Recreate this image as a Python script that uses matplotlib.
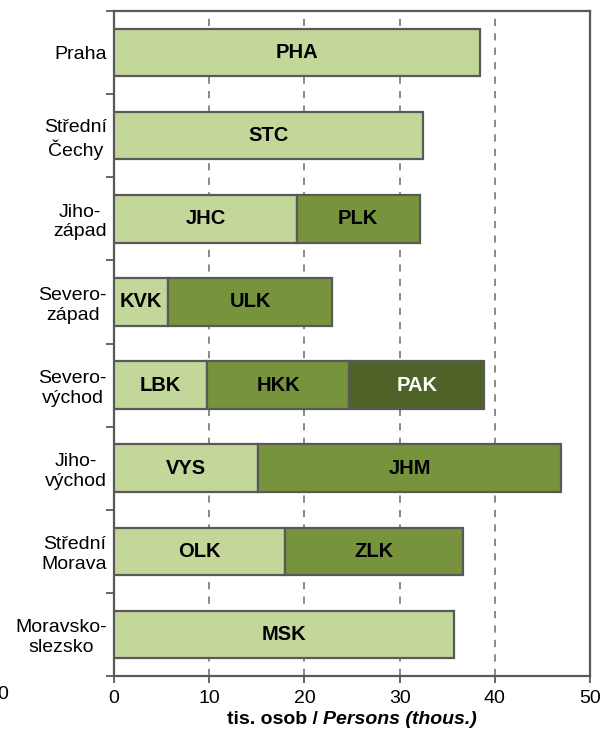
import matplotlib
matplotlib.use('Agg')
import matplotlib.pyplot as plt
import numpy as np

plt.rcParams['font.family'] = ['Liberation Sans', 'DejaVu Sans']

regions = ['Praha', 'Střední\nČechy', 'Jiho-\nzápad', 'Severo-\nzápad',
           'Severo-\nvýchod', 'Jiho-\nvýchod', 'Střední\nMorava', 'Moravsko-\nslezsko']

# kraje v každém regionu soudržnosti (tis. osob), po segmentech zleva
seg1_codes = ['PHA', 'STC', 'JHC', 'KVK', 'LBK', 'VYS', 'OLK', 'MSK']
seg1_vals = [38.4, 32.5, 19.2, 5.7, 9.8, 15.1, 18.0, 35.7]
seg2_codes = ['', '', 'PLK', 'ULK', 'HKK', 'JHM', 'ZLK', '']
seg2_vals = [0, 0, 12.9, 17.2, 14.9, 31.9, 18.7, 0]
seg3_codes = ['', '', '', '', 'PAK', '', '', '']
seg3_vals = [0, 0, 0, 0, 14.2, 0, 0, 0]

C_LIGHT = '#c4d79b'
C_MID = '#77933c'
C_DARK = '#4f6228'
C_EDGE = '#595959'
FS = 14

fig = plt.figure(figsize=(6.04, 7.33), dpi=100)
ax = fig.add_axes([114 / 604, 1 - 676 / 733, 476 / 604, 665 / 733])

y = np.arange(len(regions))
h = 0.57
left = np.zeros(len(regions))
for vals, codes, color, tcolor in [(seg1_vals, seg1_codes, C_LIGHT, 'black'),
                                   (seg2_vals, seg2_codes, C_MID, 'black'),
                                   (seg3_vals, seg3_codes, C_DARK, 'white')]:
    vals = np.array(vals, dtype=float)
    mask = vals > 0
    ax.barh(y[mask], vals[mask], left=left[mask], height=h, color=color,
            edgecolor=C_EDGE, linewidth=1.6, zorder=3)
    for yi, l, v, c in zip(y, left, vals, codes):
        if v > 0:
            ax.text(l + v / 2, yi, c, ha='center', va='center', fontsize=14.5,
                    fontweight='bold', color=tcolor, zorder=4)
    left = left + vals

ax.set_xlim(0, 50)
ax.set_ylim(len(regions) - 0.5, -0.5)
ax.set_xticks(np.arange(0, 51, 10))
ax.tick_params(axis='x', direction='out', length=5, width=1.3, color=C_EDGE,
               labelsize=FS, pad=5)
ax.set_yticks(y)
ax.set_yticklabels(regions, multialignment='center', fontsize=FS)
ax.tick_params(axis='y', length=0, pad=5)
ax.set_yticks(np.arange(-0.5, len(regions), 1), minor=True)
ax.tick_params(axis='y', which='minor', direction='out', length=6, width=1.3, color=C_EDGE)

for xv in range(10, 50, 10):
    ax.axvline(xv, color='#808080', linewidth=1.3, linestyle=(0, (4, 4)), zorder=1)

for spine in ax.spines.values():
    spine.set_edgecolor(C_EDGE)
    spine.set_linewidth(1.6)

# popisek osy x: česky tučně, anglicky tučná kurzíva
fig.canvas.draw()
r = fig.canvas.get_renderer()
t1 = fig.text(0, 0, 'tis. osob / ', fontsize=FS, fontweight='bold')
t2 = fig.text(0, 0, 'Persons (thous.)', fontsize=FS, fontweight='bold', style='italic')
w1 = t1.get_window_extent(r).width
w2 = t2.get_window_extent(r).width
cx = (114 + 590) / 2
yl = 1 - 724 / 733
t1.set_position(((cx - (w1 + w2) / 2) / 604, yl))
t2.set_position(((cx - (w1 + w2) / 2 + w1) / 604, yl))

fig.text(3 / 604, 1 - 699 / 733, '0', fontsize=FS, ha='center')

fig.savefig('out.png', dpi=100, facecolor='white')
